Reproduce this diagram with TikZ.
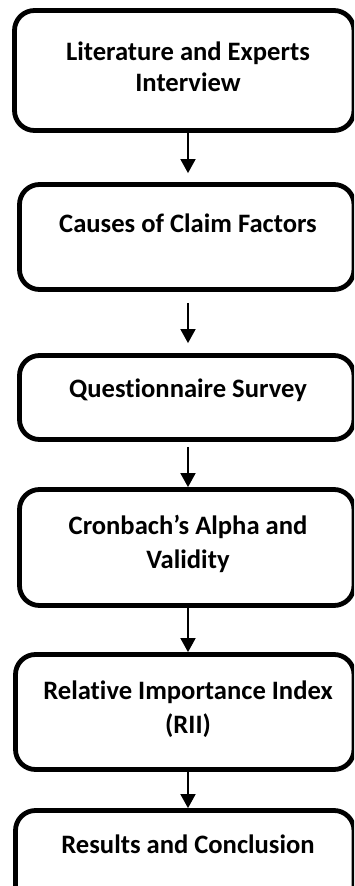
\documentclass[tikz,border=0pt]{standalone}
\usepackage{fontspec}
\setmainfont{Carlito}[Ligatures=NoCommon]
\usetikzlibrary{arrows.meta}
\begin{document}
\begin{tikzpicture}[x=1pt,y=1pt,
  box/.style={draw=black, line width=4.8pt, rounded corners=20pt, rectangle, inner sep=0pt, fill=white},
  lbl/.style={font=\fontsize{26.6}{30}\selectfont\bfseries, anchor=base, inner sep=0pt},
  flow/.style={line width=1.8pt, -{Triangle[length=14pt,width=15pt]}}
]
\useasboundingbox (0,0) rectangle (354,-886);
\clip (0,0) rectangle (354,-886);
\fill[white] (0,0) rectangle (354,-886);
% boxes (stroke centres)
\node[box, minimum width=339.5pt, minimum height=120pt] (b1) at (184.25,-70.5) {};
\node[box, minimum width=334.5pt, minimum height=105pt] (b2) at (186.75,-237) {};
\node[box, minimum width=334.5pt, minimum height=84pt] (b3) at (186.75,-397.5) {};
\node[box, minimum width=334.5pt, minimum height=116pt] (b4) at (186.75,-547.5) {};
\node[box, minimum width=338.5pt, minimum height=115pt] (b5) at (184.75,-712) {};
\node[box, minimum width=338.5pt, minimum height=120pt] (b6) at (184.75,-870.5) {};
% texts
\node[lbl] (t1a) at (188,-60) {Literature and Experts};
\node[lbl] (t1b) at (188,-91) {Interview};
\node[lbl] (t2) at (188,-232) {Causes of Claim Factors};
\node[lbl] (t3) at (188,-397.5) {Questionnaire Survey};
\node[lbl] (t4a) at (188,-534) {Cronbach’s Alpha and};
\node[lbl] (t4b) at (188,-568) {Validity};
\node[lbl] (t5a) at (188,-699.5) {Relative Importance Index};
\node[lbl] (t5b) at (188,-733) {(RII)};
\node[lbl] (t6) at (188,-853) {Results and Conclusion};
% arrows
\coordinate (ax) at (188,0);
\draw[flow, shorten >=9pt] (b1.south -| ax) -- (b2.north -| ax);
\draw[flow, shorten <=11pt, shorten >=10pt] (b2.south -| ax) -- (b3.north -| ax);
\draw[flow, shorten <=5pt] (b3.south -| ax) -- (b4.north -| ax);
\draw[flow] (b4.south -| ax) -- (b5.north -| ax);
\draw[flow] (b5.south -| ax) -- (b6.north -| ax);
\end{tikzpicture}
\end{document}
